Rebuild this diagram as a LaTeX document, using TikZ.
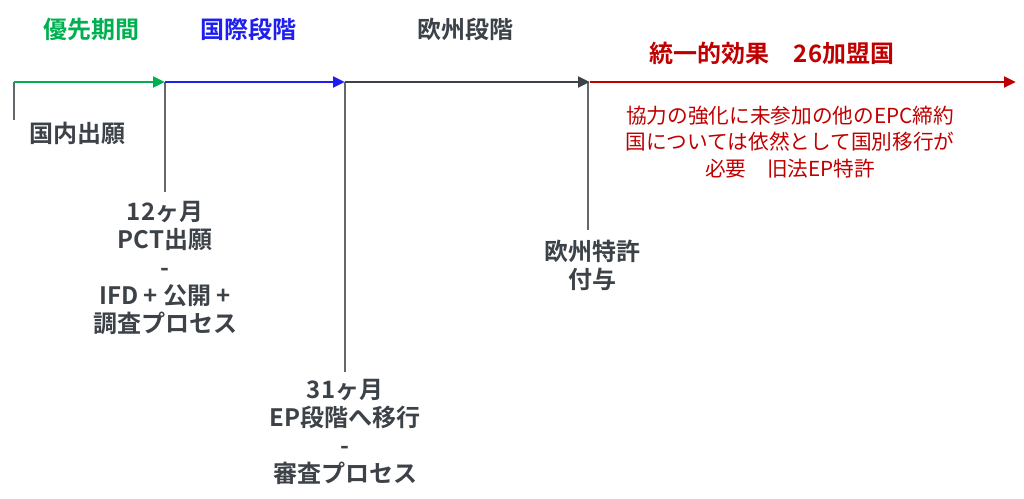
\documentclass[tikz,border=0pt]{standalone}
\usepackage{fontspec}
\newfontfamily\jp{Noto Sans CJK JP}[BoldFont={Noto Sans CJK JP Bold}]
\usetikzlibrary{arrows.meta}
\definecolor{cg}{RGB}{0,176,80}
\definecolor{cb}{RGB}{30,30,240}
\definecolor{cd}{RGB}{60,66,72}
\definecolor{cr}{RGB}{192,0,0}
\begin{document}
\begin{tikzpicture}[x=0.75pt,y=-0.75pt,
  seg/.style={line width=2.2pt,-{Triangle[length=9pt,width=8pt]}},
  tick/.style={line width=0.8pt,cd!80},
  lbl/.style={font=\jp\bfseries\fontsize{18}{21}\selectfont,text=cd,align=center},
  red/.style={font=\jp\fontsize{15.5}{20}\selectfont,text=cr,align=center}]
\useasboundingbox (0,0) rectangle (1024,499);
\coordinate (p0) at (14,82); \coordinate (p1) at (165,82);
\coordinate (p2) at (345,82); \coordinate (p3) at (590,82);
\coordinate (p4) at (1016,82);
\coordinate (t0) at (14,120); \coordinate (t1) at (165,192);
\coordinate (t2) at (345,372); \coordinate (t3) at (588,230);
\draw[tick] (p0) -- (t0);
\draw[tick] (p1) -- (t1);
\draw[tick] (p2) -- (t2);
\draw[tick] (588,82) -- (t3);
\draw[seg,cg] (p0) -- (p1);
\draw[seg,cb] (p1) -- (p2);
\draw[seg,cd] (p2) -- (p3);
\draw[seg,cr] (p3) -- (p4);
\node[lbl,text=cg] (h1) at (91,29) {優先期間};
\node[lbl,text=cb] (h2) at (248,29) {国際段階};
\node[lbl] (h3) at (465,29) {欧州段階};
\node[lbl,text=cr] (h4) at (772,53) {統一的効果\quad 26加盟国};
\node[red] (r) at (790,142) {協力の強化に未参加の他のEPC締約\\国については依然として国別移行が\\必要\quad 旧法EP特許};
\node[lbl,anchor=west] (n0) at (25,133) {国内出願};
\node[lbl,anchor=north] (n1) at (165,197) {12ヶ月\\PCT出願\\-\\IFD + 公開 +\\調査プロセス};
\node[lbl,anchor=north] (n2) at (345,375) {31ヶ月\\EP段階へ移行\\-\\審査プロセス};
\node[lbl,anchor=north] (n3) at (592,235) {欧州特許\\付与};
\end{tikzpicture}
\end{document}
